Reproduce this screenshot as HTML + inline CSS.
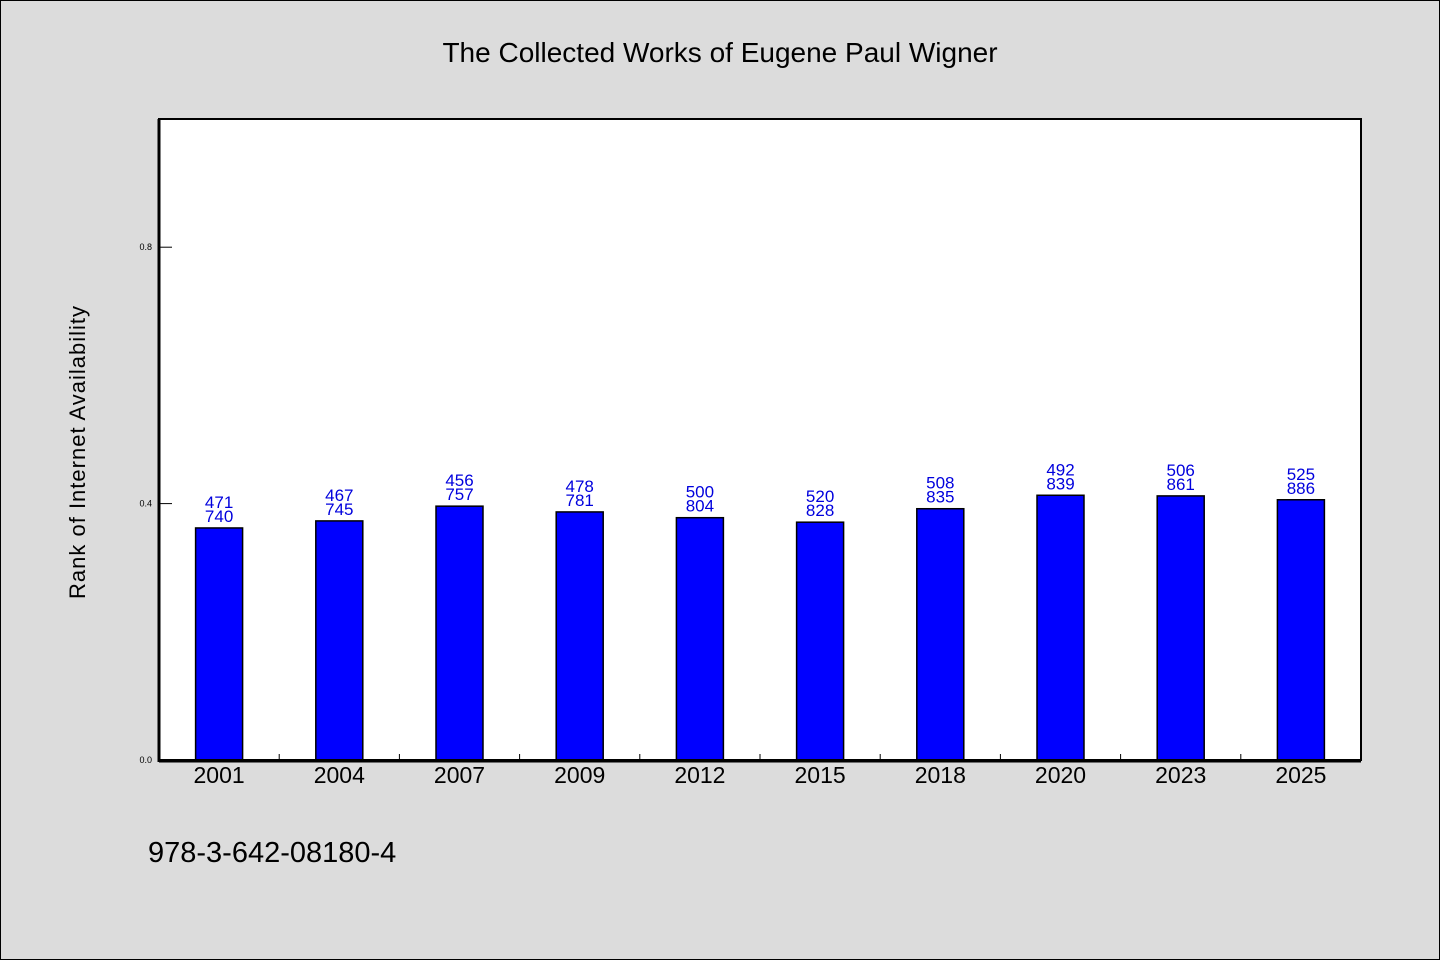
<!DOCTYPE html>
<html><head><meta charset="utf-8"><style>
html,body{margin:0;padding:0;background:#dcdcdc;}
svg{display:block;}
</style></head><body>
<svg id="chart" width="1440" height="960" xmlns="http://www.w3.org/2000/svg">
<rect x="0.5" y="0.5" width="1439" height="959" fill="#dcdcdc" stroke="#000"/>
<text x="720" y="62" text-anchor="middle" font-family="'WenQuanYi Zen Hei',sans-serif" font-size="28">The Collected Works of Eugene Paul Wigner</text>
<rect x="159" y="119" width="1202" height="641" fill="#fff"/>
<g id="bars"></g>
<g id="axes"></g>
<text transform="translate(85,452) rotate(-90)" text-anchor="middle" font-family="'WenQuanYi Zen Hei',sans-serif" font-size="22" letter-spacing="1">Rank of Internet Availability</text>
<text x="148" y="862" font-family="'WenQuanYi Zen Hei',sans-serif" font-size="29">978-3-642-08180-4</text>
</svg>
<script>
const categories = ["2001","2004","2007","2009","2012","2015","2018","2020","2023","2025"];
const values = [0.362,0.373,0.396,0.387,0.378,0.371,0.392,0.413,0.412,0.406];
const topLabels = ["471","467","456","478","500","520","508","492","506","525"];
const bottomLabels = ["740","745","757","781","804","828","835","839","861","886"];
const yTicks = [0,0.4,0.8];
const yTickLabels = ["0.0","0.4","0.8"];

const NS="http://www.w3.org/2000/svg";
const L=159,R=1361,T=119,B=760;
const band=(R-L)/categories.length;
function x(i){return L+band*(i+0.5);}
function y(v){return B-(B-T)*v;}
function mk(tag,attrs,parent){const e=document.createElementNS(NS,tag);for(const k in attrs)e.setAttribute(k,attrs[k]);parent.appendChild(e);return e;}
const bars=document.getElementById('bars');
const axes=document.getElementById('axes');
categories.forEach((c,i)=>{
  const cx=x(i),w=47;
  const r=mk('rect',{x:cx-w/2,y:y(values[i]),width:w,height:B-y(values[i]),fill:'#0000ff',stroke:'#000','stroke-width':1.5},bars);
  
  
  const t1=mk('text',{x:cx,y:y(values[i])-20,'text-anchor':'middle','font-family':"'Liberation Sans',sans-serif",'font-size':17,fill:'#0000dd'},bars);
  t1.textContent=topLabels[i];
  
  
  const t2=mk('text',{x:cx,y:y(values[i])-6,'text-anchor':'middle','font-family':"'Liberation Sans',sans-serif",'font-size':17,fill:'#0000dd'},bars);
  t2.textContent=bottomLabels[i];
  
  
  const xl=mk('text',{x:cx,y:783,'text-anchor':'middle','font-family':"'Liberation Sans',sans-serif",'font-size':23},axes);
  xl.textContent=c;
  
  
  if(i>0){
    const tk=mk('line',{x1:L+band*i,x2:L+band*i,y1:B,y2:B-6,stroke:'#000'},axes);
    
    
  }
});
yTicks.forEach((v,i)=>{
  const tk=mk('line',{x1:L,x2:L+13,y1:y(v),y2:y(v),stroke:'#000'},axes);
  
  
  const tl=mk('text',{x:152,y:y(v)+3,'text-anchor':'end','font-family':"'Liberation Sans',sans-serif",'font-size':9},axes);
  tl.textContent=yTickLabels[i];
  
  
});
const frame=mk('rect',{x:L,y:T,width:R-L,height:B-T,fill:'none',stroke:'#000','stroke-width':2},axes);


const xa=mk('line',{x1:L,x2:R,y1:B+1,y2:B+1,stroke:'#000','stroke-width':3},axes);


const ya=mk('line',{x1:L,x2:L,y1:T,y2:B+2,stroke:'#000','stroke-width':3},axes);


</script>
</body></html>
